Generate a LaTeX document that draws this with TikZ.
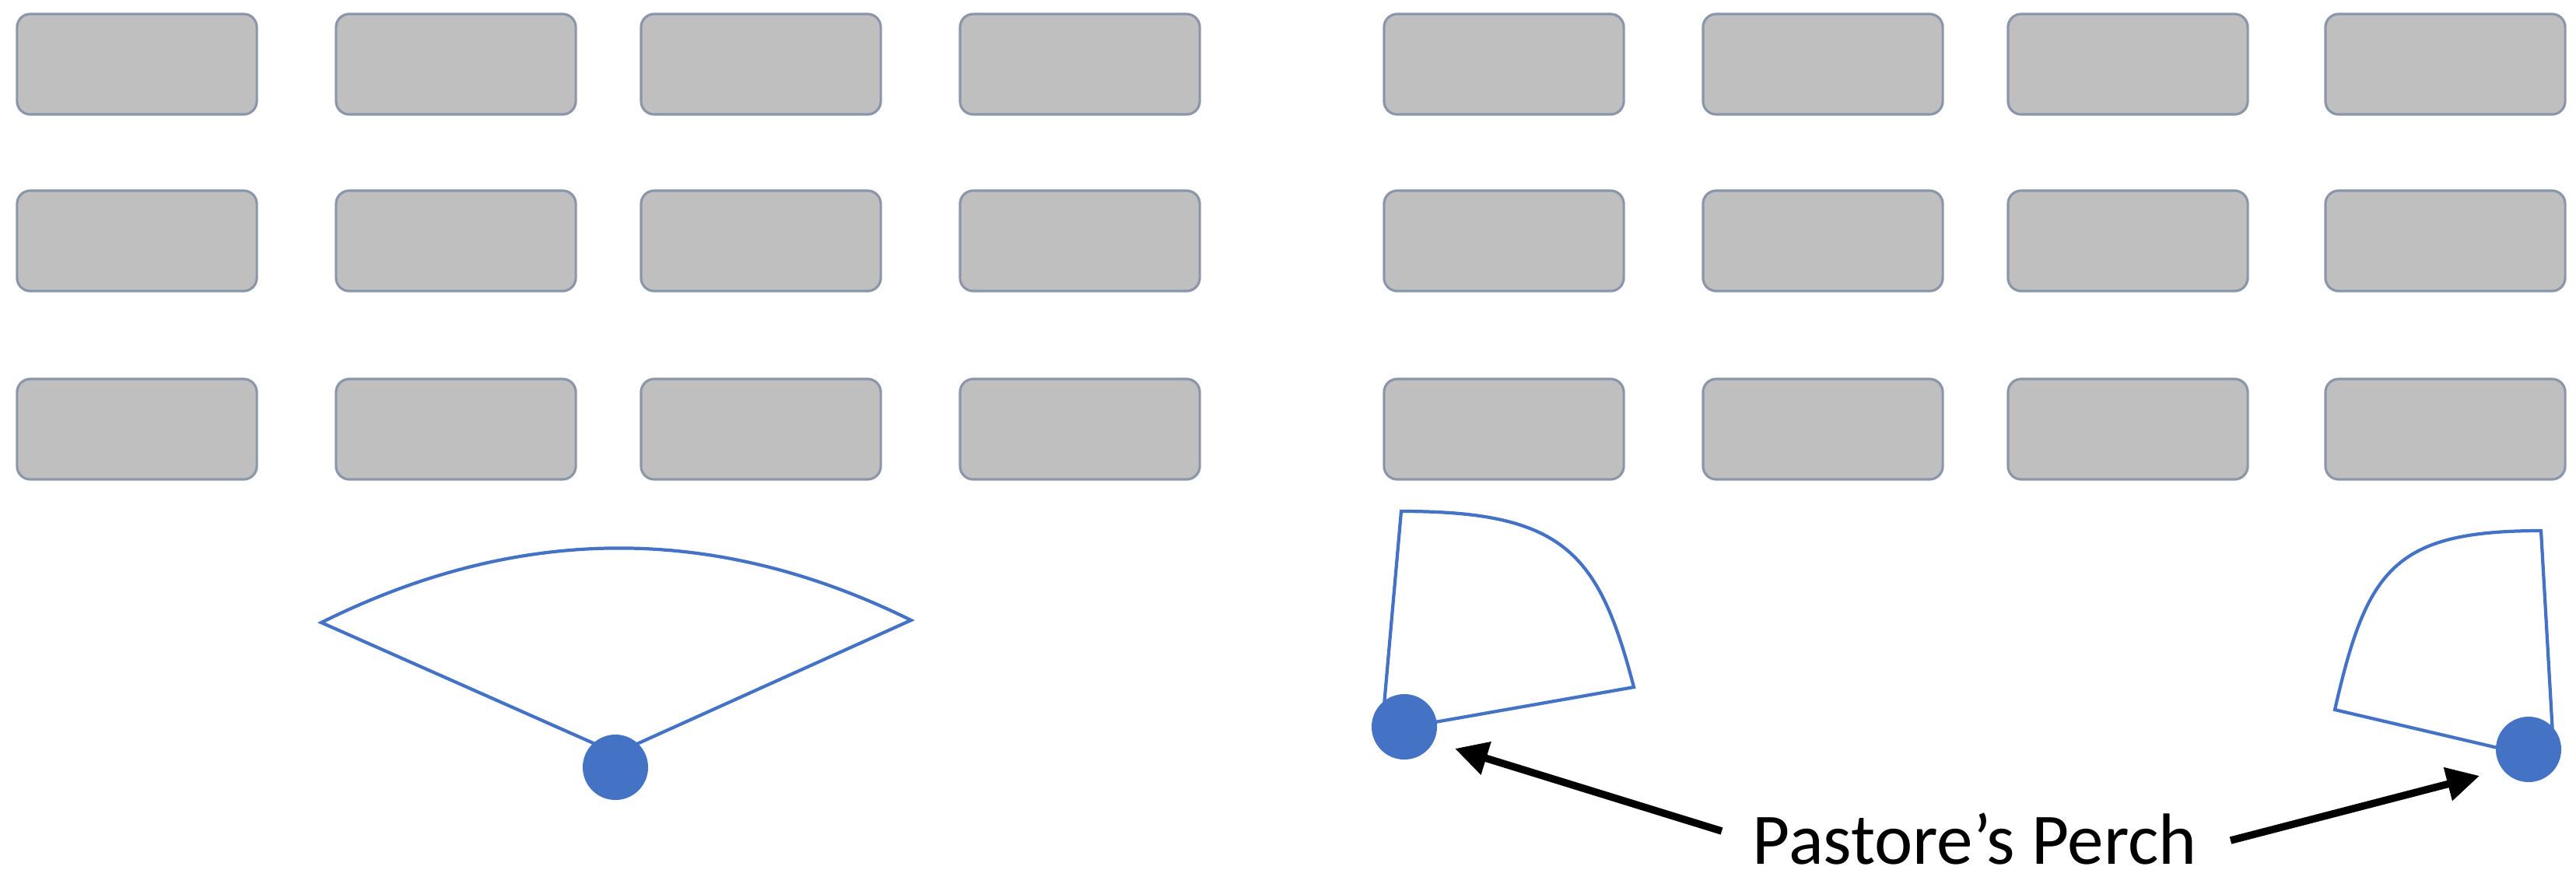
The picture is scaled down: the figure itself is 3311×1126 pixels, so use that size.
\documentclass[tikz,border=0pt]{standalone}
\usepackage{fontspec}
\setmainfont{Carlito}
\usetikzlibrary{arrows.meta}
\definecolor{boxfill}{HTML}{BFBFBF}
\definecolor{boxline}{HTML}{8C96AA}
\definecolor{fanblue}{HTML}{4472C4}
\tikzset{
  seat/.style={draw=boxline, line width=0.9pt, fill=boxfill, rounded corners=0.17cm,
    minimum width=3.08cm, minimum height=1.29cm, inner sep=0pt, outer sep=0pt},
  perch/.style={circle, fill=fanblue, minimum size=0.84cm, inner sep=0pt},
  fan/.style={draw=fanblue, line width=1.2pt, line join=miter},
  pointer/.style={line width=2.7pt, -{Triangle[length=0.42cm,width=0.42cm]}},
  lbl/.style={font=\fontsize{26.5pt}{31pt}\selectfont, inner sep=0pt, anchor=base}
}
\begin{document}
\begin{tikzpicture}[x=0.01cm,y=-0.01cm]
\useasboundingbox (0,0) rectangle (3311,1126);
% seats
\foreach \cx [count=\i] in {176,586,978,1388,1933,2343,2735,3143}{
  \foreach \cy [count=\j] in {82.5,309.5,551.5}{
    \node[seat] (s\i-\j) at (\cx,\cy) {};
  }
}
% left fan
\coordinate (a1) at (792,968);
\coordinate (l1) at (413,800);
\coordinate (r1) at (1171,797);
\draw[fan] (a1) -- (l1) .. controls (666,674) and (918,672) .. (r1) -- cycle;
% middle fan
\coordinate (a2) at (1776,940);
\coordinate (l2) at (1801,657);
\coordinate (r2) at (2100,883);
\draw[fan] (a2) -- (l2) .. controls (2010,657) and (2055,710) .. (r2) -- cycle;
% right fan
\coordinate (a3) at (3283,978);
\coordinate (l3) at (3266,682);
\coordinate (r3) at (3001,912);
\draw[fan] (a3) -- (l3) .. controls (3076,682) and (3042,732) .. (r3) -- cycle;
% perches
\node[perch] (p1) at (791,986) {};
\node[perch] (p2) at (1805,934) {};
\node[perch] (p3) at (3250,963) {};
% label and arrows
\node[lbl] (label) at (2538,1110) {Pastore’s Perch};
\coordinate (t1) at (2213,1068);
\coordinate (h1) at (1870,962);
\coordinate (t2) at (2867,1080);
\coordinate (h2) at (3187,997);
\draw[pointer] (t1) -- (h1);
\draw[pointer] (t2) -- (h2);
\end{tikzpicture}
\end{document}
